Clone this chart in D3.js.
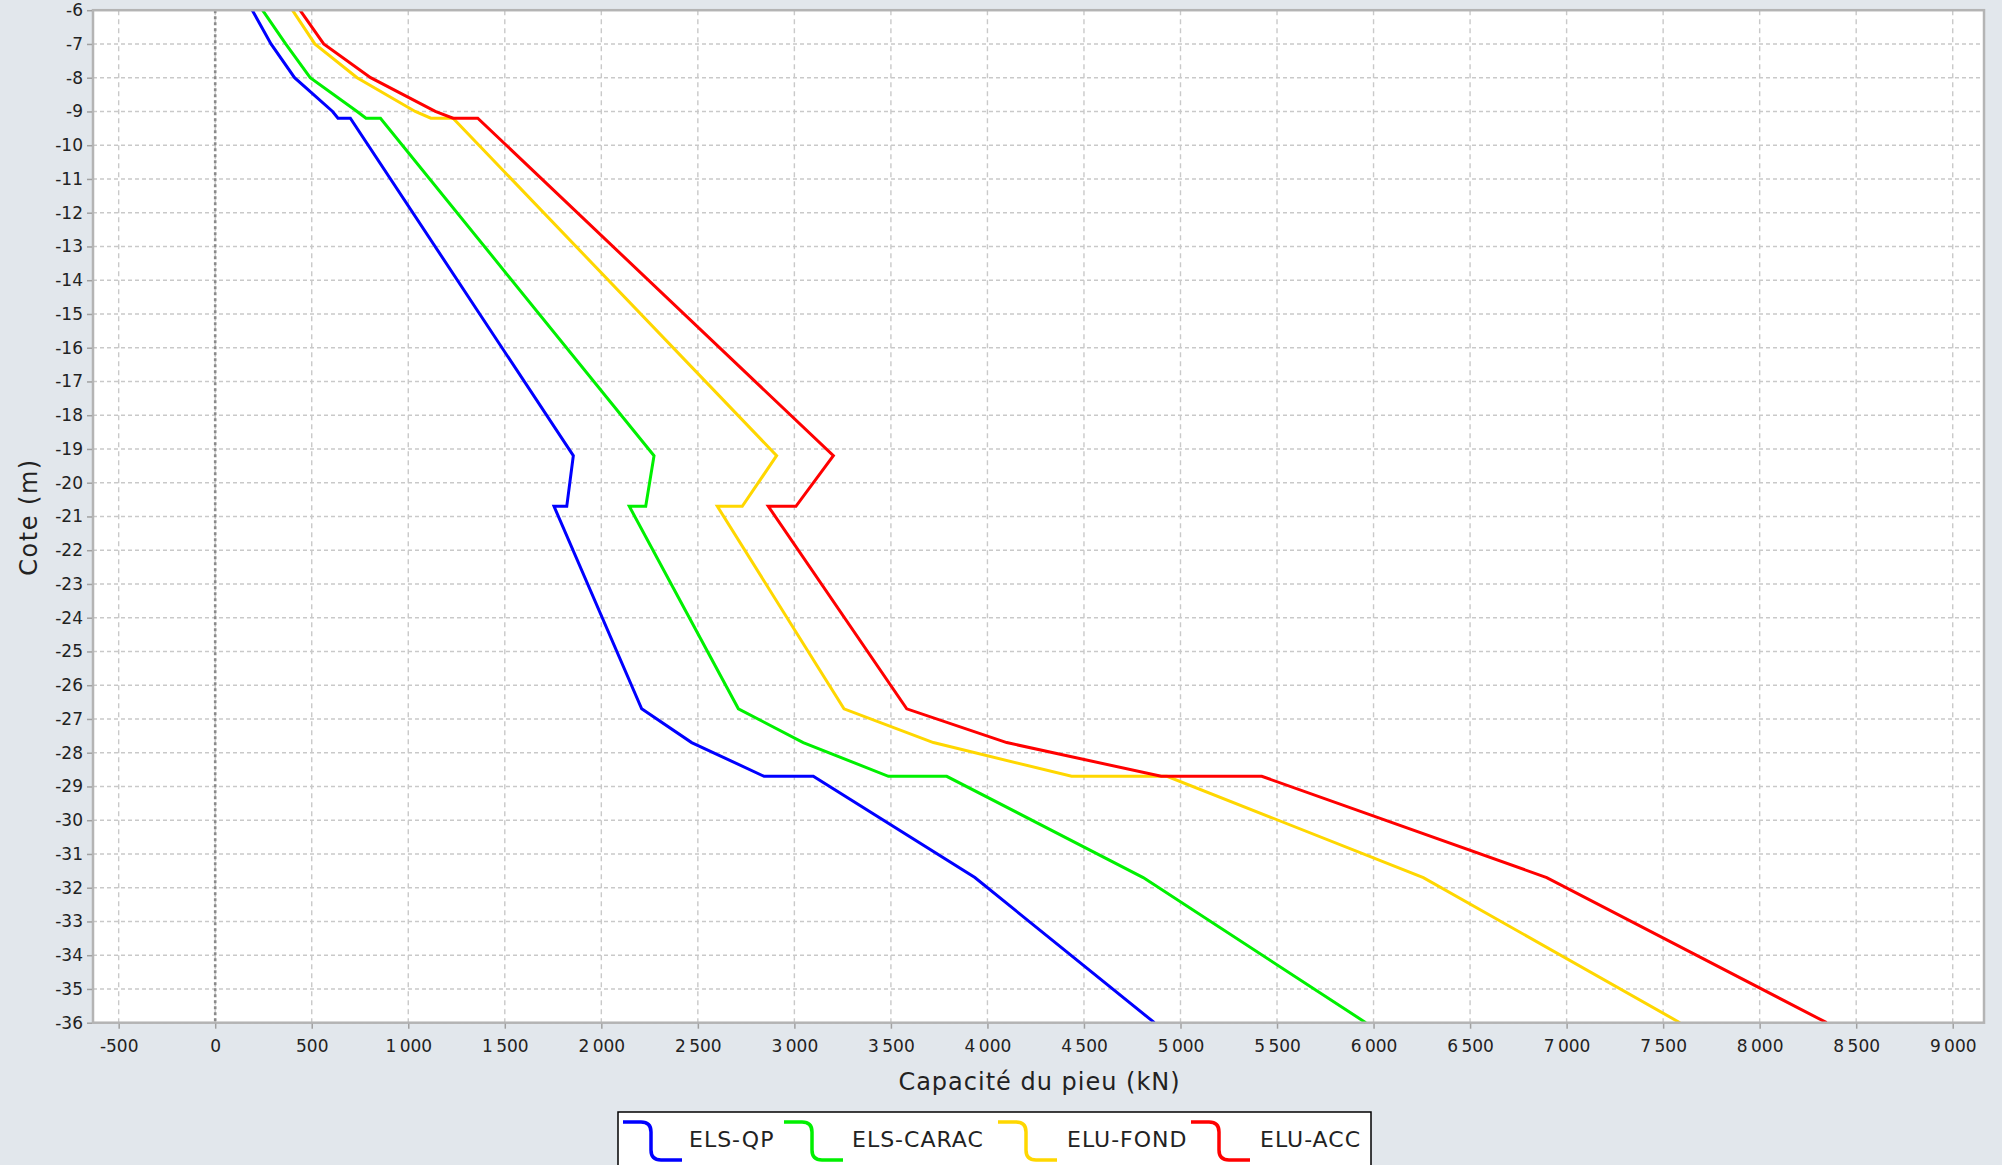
<!DOCTYPE html>
<html>
<head>
<meta charset="utf-8">
<script src="https://cdn.jsdelivr.net/npm/d3@7"></script>
<style>
  html, body { margin: 0; padding: 0; background: #e2e7ec; }
  svg { display: block; }
  text { font-family: "DejaVu Sans", sans-serif; }
</style>
</head>
<body>
<svg id="chart" width="2002" height="1165"></svg>
<script>
// ---------- data ----------
const depths = [-6, -7, -8, -9, -9.2, -9.2, -19.2, -20.7, -20.7, -26.7, -27.7, -28.7, -28.7, -31.7, -36];
const elsQP    = [192, 289, 411, 608, 636, 700, 1855, 1821, 1755, 2209, 2468, 2843, 3098, 3935, 4865];
const elsCARAC = [245, 365, 492, 735, 781, 856, 2273, 2230, 2145, 2710, 3046, 3487, 3789, 4807, 5960];
const eluFOND  = [400, 516, 735, 1036, 1117, 1232, 2908, 2730, 2601, 3257, 3720, 4436, 4930, 6258, 7587];
const eluACC   = [439, 562, 805, 1140, 1232, 1360, 3202, 3008, 2865, 3582, 4100, 4900, 5421, 6897, 8347];
const seriesNames = ["ELS-QP", "ELS-CARAC", "ELU-FOND", "ELU-ACC"];
const seriesValues = [elsQP, elsCARAC, eluFOND, eluACC];
const seriesColors = ["#0000ff", "#00f000", "#ffd700", "#ff0000"];
const xTicks = [-500, 0, 500, 1000, 1500, 2000, 2500, 3000, 3500, 4000, 4500, 5000, 5500, 6000, 6500, 7000, 7500, 8000, 8500, 9000];
const yTicks = [-6, -7, -8, -9, -10, -11, -12, -13, -14, -15, -16, -17, -18, -19, -20, -21, -22, -23, -24, -25, -26, -27, -28, -29, -30, -31, -32, -33, -34, -35, -36];
const xTitle = "Capacité du pieu (kN)";
const yTitle = "Cote (m)";

// ---------- layout ----------
const svg = d3.select("#chart");
const plot = { left: 93, right: 1984, top: 10.2, bottom: 1022.7 };

const x = d3.scaleLinear().domain([-633, 9162]).range([plot.left, plot.right]);
const y = d3.scaleLinear().domain([-36, -6]).range([plot.bottom, plot.top]);

const fmt = v => d3.format(",")(v).replace(/,/g, "\u2009").replace("−", "-");

// plot background
svg.append("rect")
  .attr("x", plot.left).attr("y", plot.top)
  .attr("width", plot.right - plot.left).attr("height", plot.bottom - plot.top)
  .attr("fill", "#ffffff");

// grid
const grid = svg.append("g");
grid.selectAll("line.vg").data(xTicks).join("line")
  .attr("class", "vg")
  .attr("x1", d => x(d)).attr("x2", d => x(d))
  .attr("y1", plot.top).attr("y2", plot.bottom)
  .attr("stroke", "#c9c9c9").attr("stroke-width", 1.4)
  .attr("stroke-dasharray", "5,4");
grid.selectAll("line.hg").data(yTicks).join("line")
  .attr("class", "hg")
  .attr("x1", plot.left).attr("x2", plot.right)
  .attr("y1", d => y(d)).attr("y2", d => y(d))
  .attr("stroke", "#c9c9c9").attr("stroke-width", 1.4)
  .attr("stroke-dasharray", "4,3");

// zero line
svg.append("line")
  .attr("x1", x(0)).attr("x2", x(0))
  .attr("y1", plot.top).attr("y2", plot.bottom)
  .attr("stroke", "#8a8a8a").attr("stroke-width", 2.6)
  .attr("stroke-dasharray", "3,3");

// series lines
const line = d3.line().x(d => x(d[0])).y(d => y(d[1]));
seriesValues.forEach((vals, i) => {
  const pts = vals.map((v, k) => [v, depths[k]]);
  svg.append("path")
    .datum(pts)
    .attr("d", line)
    .attr("fill", "none")
    .attr("stroke", seriesColors[i])
    .attr("stroke-width", 3)
    .attr("stroke-linejoin", "miter");
});

// plot border
svg.append("rect")
  .attr("x", plot.left).attr("y", plot.top)
  .attr("width", plot.right - plot.left).attr("height", plot.bottom - plot.top)
  .attr("fill", "none").attr("stroke", "#b4b4b4").attr("stroke-width", 2.5);

// axes
const xAxis = svg.append("g")
  .attr("transform", `translate(0,${plot.bottom + 1})`)
  .call(d3.axisBottom(x).tickValues(xTicks).tickFormat(fmt).tickSize(5).tickPadding(11));
xAxis.select(".domain").remove();
xAxis.selectAll(".tick line").attr("stroke", "#a0a0a0").attr("stroke-width", 1.5);
xAxis.selectAll(".tick text").attr("font-size", 17).attr("fill", "#222");

const yAxis = svg.append("g")
  .attr("transform", `translate(${plot.left - 1},0)`)
  .call(d3.axisLeft(y).tickValues(yTicks).tickFormat(fmt).tickSize(5).tickPadding(4));
yAxis.select(".domain").remove();
yAxis.selectAll(".tick line").attr("stroke", "#a0a0a0").attr("stroke-width", 1.5);
yAxis.selectAll(".tick text").attr("font-size", 17).attr("fill", "#222");

// axis titles
svg.append("text")
  .attr("x", (plot.left + plot.right) / 2 + 1).attr("y", 1090)
  .attr("text-anchor", "middle")
  .attr("font-size", 24).attr("letter-spacing", 1)
  .attr("fill", "#222")
  .text(xTitle);

svg.append("text")
  .attr("transform", "translate(37,517) rotate(-90)")
  .attr("text-anchor", "middle")
  .attr("font-size", 24).attr("letter-spacing", 1.5)
  .attr("fill", "#222")
  .text(yTitle);

// legend
const legend = svg.append("g");
legend.append("rect")
  .attr("x", 618).attr("y", 1112)
  .attr("width", 753).attr("height", 70)
  .attr("fill", "#ffffff").attr("stroke", "#000").attr("stroke-width", 1.5);
const legX = [623, 784, 998, 1191];
const textX = [689, 852, 1067, 1260];
seriesNames.forEach((name, i) => {
  legend.append("path")
    .attr("d", `M${legX[i]},1122 H${legX[i] + 18} Q${legX[i] + 28},1122 ${legX[i] + 28},1132 V1150 Q${legX[i] + 28},1160 ${legX[i] + 38},1160 H${legX[i] + 59}`)
    .attr("fill", "none").attr("stroke", seriesColors[i]).attr("stroke-width", 3.5);
  legend.append("text")
    .attr("x", textX[i]).attr("y", 1147)
    .attr("font-size", 22).attr("letter-spacing", 1)
    .attr("fill", "#222")
    .text(name);
});
</script>
</body>
</html>
